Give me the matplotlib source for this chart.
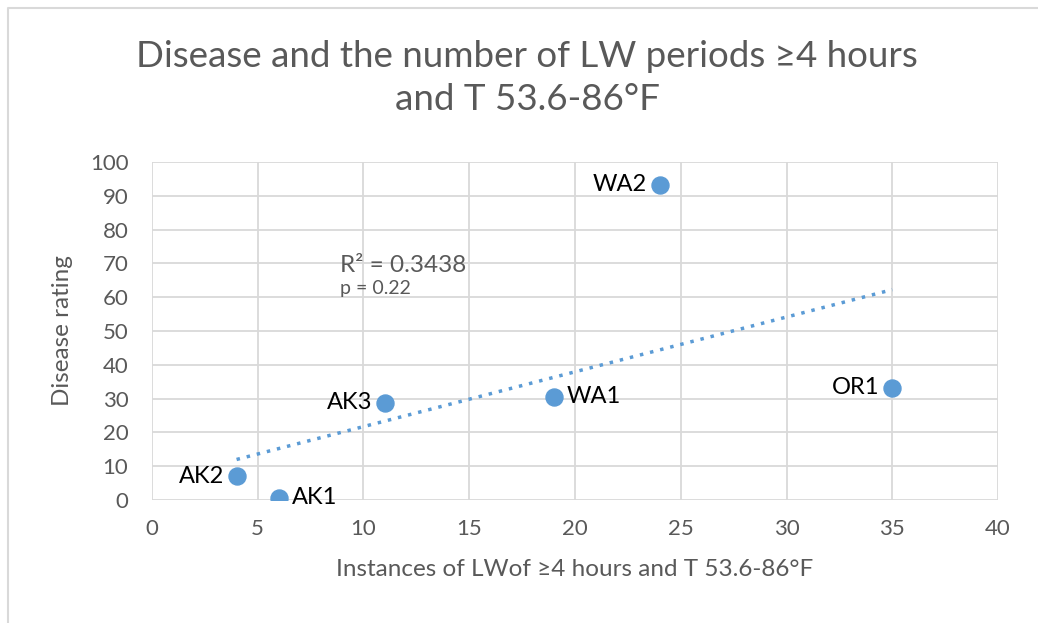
import numpy as np
import matplotlib.pyplot as plt
from matplotlib.lines import Line2D

plt.rcParams['font.family'] = ['Lato', 'DejaVu Sans']

# data
sites = ['AK2', 'AK1', 'AK3', 'WA1', 'WA2', 'OR1']
lw_instances = [4, 6, 11, 19, 24, 35]
disease = [7, 0.7, 28.8, 30.5, 93.3, 33.2]
label_side = ['left', 'right', 'left', 'right', 'left', 'left']

x_ticks = [0, 5, 10, 15, 20, 25, 30, 35, 40]
y_ticks = [0, 10, 20, 30, 40, 50, 60, 70, 80, 90, 100]

blue = '#5B9BD5'
gray = '#595959'

fig = plt.figure(figsize=(10.38, 6.23), dpi=100)
ax = fig.add_axes([0.1464, 0.1974, 0.8151, 0.5426])

# chart border (only top and left edges are visible in the crop)
fig.lines.append(Line2D([0.0075, 0.0075, 1.0], [0.0, 0.987, 0.987], transform=fig.transFigure,
                        color='#d9d9d9', linewidth=1.5))

ax.scatter(lw_instances, disease, s=150, color=blue, zorder=3)

# linear trendline
slope, intercept = np.polyfit(lw_instances, disease, 1)
xs = np.array([min(lw_instances), max(lw_instances)])
ax.plot(xs, slope * xs + intercept, color=blue, linestyle=(0, (1, 2)), linewidth=2.5, zorder=2)

for name, x, y, side in zip(sites, lw_instances, disease, label_side):
    dx = 0.6 if side == 'right' else -0.6
    ha = 'left' if side == 'right' else 'right'
    ax.text(x + dx, y, name, ha=ha, va='center', fontsize=17, color='black', zorder=4)

ax.text(8.9, 67.5, 'R² = 0.3438', fontsize=17.5, color=gray)
ax.text(8.9, 60.8, 'p = 0.22', fontsize=14, color=gray)

ax.set_xlim(0, 40)
ax.set_ylim(0, 100)
ax.set_xticks(x_ticks)
ax.set_yticks(y_ticks)
ax.grid(True, color='#d9d9d9', linewidth=1.3)
ax.set_axisbelow(True)
for s in ax.spines.values():
    s.set_visible(False)
ax.tick_params(length=0, labelsize=16, labelcolor=gray)
ax.tick_params(axis='y', pad=17)
ax.tick_params(axis='x', pad=14)

ax.set_xlabel('Instances of LWof ≥4 hours and T 53.6-86°F', fontsize=17.5, color=gray, labelpad=14)
ax.set_ylabel('Disease rating', fontsize=17.5, color=gray, labelpad=12)

fig.text(0.508, 0.935, 'Disease and the number of LW periods ≥4 hours\nand T 53.6-86°F',
         ha='center', va='top', fontsize=26.5, color=gray, linespacing=1.36)

fig.savefig('out.png', dpi=100)
